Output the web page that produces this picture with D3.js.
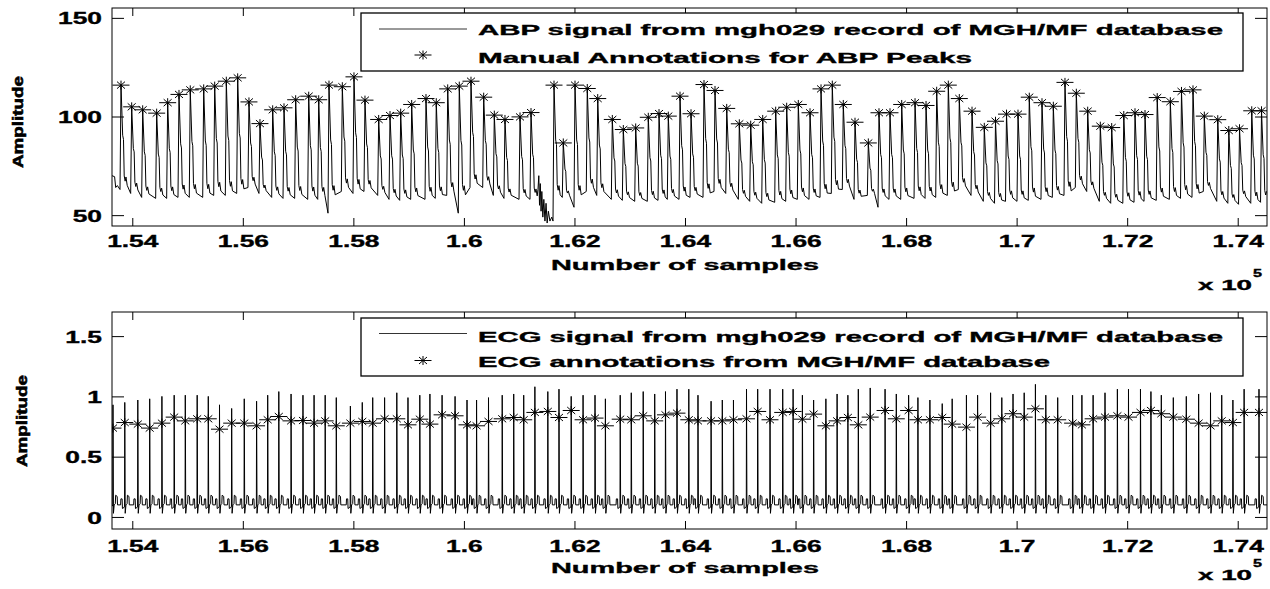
<!DOCTYPE html>
<html>
<head>
<meta charset="utf-8">
<script src="https://cdn.jsdelivr.net/npm/d3@7"></script>
<style>
  body { margin: 0; background: #fff; }
  text { font-family: "Liberation Sans", Arial, sans-serif; font-weight: bold; fill: #000; stroke: #000; stroke-width: 0.35px; }
</style>
</head>
<body>
<div id="chart"></div>
<script>
// ---------------- data ----------------
var xDomain = [153633, 174530];
var xTicks = [154000, 156000, 158000, 160000, 162000, 164000, 166000, 168000, 170000, 172000, 174000];
var xTickLabels = ["1.54", "1.56", "1.58", "1.6", "1.62", "1.64", "1.66", "1.68", "1.7", "1.72", "1.74"];

var abpTicks = [50, 100, 150];
var abpTickLabels = ["50", "100", "150"];
var ecgTicks = [0, 0.5, 1, 1.5];
var ecgTickLabels = ["0", "0.5", "1", "1.5"];

// ABP: annotated systolic peaks (sample index, mmHg) and foot value before each upstroke
var abpPeakSample = [153796, 153989, 154188, 154441, 154640, 154845, 155049, 155292, 155491, 155701,
  155907, 156111, 156310, 156540, 156745, 156956, 157192, 157373, 157559, 157800,
  158011, 158210, 158458, 158663, 158856, 159055, 159314, 159500, 159707, 159916,
  160128, 160358, 160550, 160743, 161015, 161214, 161630, 161798, 162010, 162232,
  162421, 162685, 162884, 163108, 163336, 163530, 163698, 163910, 164109, 164344,
  164543, 164755, 164983, 165189, 165406, 165641, 165840, 166050, 166262, 166461,
  166665, 166864, 167076, 167317, 167510, 167709, 167921, 168162, 168361, 168554,
  168764, 168963, 169193, 169415, 169618, 169817, 170025, 170229, 170459, 170664,
  170875, 171080, 171286, 171514, 171720, 171939, 172142, 172323, 172544, 172781,
  172983, 173191, 173396, 173639, 173839, 174033, 174254, 174431];
var abpPeak = [115.9, 104.9, 103.4, 101.7, 107, 111.2, 113.5, 114, 115.4, 117.9,
  119.6, 107.4, 96.4, 103.4, 104.4, 108.5, 110.3, 108.5, 115.9, 115.1,
  120.1, 108.3, 98.5, 100.5, 101.7, 106.1, 109.1, 107, 114, 115.4,
  117.9, 109.8, 100.7, 98.5, 99.8, 102, 115.9, 86.6, 115.9, 114.2,
  109.1, 98.5, 93.4, 94.2, 99.6, 101.5, 100.2, 110.3, 101.4, 116.2,
  113.2, 104.1, 96.3, 95.6, 98.5, 102.7, 104.7, 106.1, 101.9, 114,
  115.9, 106.1, 97.1, 86.6, 101.9, 101.9, 106.1, 107, 105.6, 112.8,
  115.9, 109.1, 102.7, 94.5, 97.6, 101.2, 101.2, 109.8, 107, 105.2,
  117.3, 111.8, 102.7, 95.1, 94.4, 100.5, 101.9, 101, 109.6, 107.5,
  112.7, 113.5, 100.2, 98.4, 92.9, 93.8, 102.9, 102.9];
var abpFoot = [63, 61, 59, 58.5, 58.5, 59, 59, 59, 60, 60,
  61, 64, 61, 59, 58.5, 58.5, 58, 58, 51, 62,
  61, 62, 60, 58, 57.5, 58, 58, 58.5, 60, 51,
  64, 64, 60, 58.5, 58, 58, 47, 59, 54, 62,
  60, 58, 57.5, 57, 57, 57.5, 58, 58, 59, 59,
  62, 61, 58, 57, 56, 56.5, 57, 58, 58, 59,
  61, 63, 58, 60, 54, 58, 58, 58.5, 58.5, 59,
  60, 63, 60, 57, 56, 57, 57, 57.5, 58, 59,
  60, 64, 62, 57, 56, 56, 56.5, 57, 57.5, 58,
  58.5, 59, 62, 57, 56, 55.5, 56, 56.5];
// noisy stretch before the beat at 1.616e5
var abpArtifactSample = [161340, 161355, 161368, 161382, 161396, 161410, 161428, 161446, 161466, 161486, 161506, 161528, 161556, 161590];
var abpArtifactValue = [63, 70, 55, 66, 52, 62, 49, 58, 47, 56, 46, 52, 47, 49];

// ECG: annotation positions, annotation amplitude (stars) and R-wave height
var ecgSample = [153651, 153864, 154100, 154315, 154536, 154758, 154959, 155174, 155375, 155578,
  155798, 156026, 156249, 156450, 156651, 156873, 157088, 157289, 157490, 157691,
  157946, 158161, 158350, 158565, 158786, 158988, 159202, 159385, 159605, 159840,
  160056, 160229, 160445, 160693, 160901, 161082, 161284, 161518, 161720, 161941,
  162156, 162372, 162560, 162828, 163028, 163244, 163452, 163647, 163855, 164069,
  164235, 164472, 164675, 164877, 165113, 165315, 165538, 165768, 165956, 166124,
  166327, 166549, 166752, 166947, 167136, 167351, 167620, 167823, 168046, 168214,
  168431, 168654, 168834, 169092, 169294, 169529, 169732, 169935, 170137, 170340,
  170528, 170743, 171013, 171181, 171384, 171599, 171823, 172024, 172241, 172430,
  172618, 172835, 173070, 173293, 173508, 173711, 173913, 174116, 174385];
var ecgAnnot = [0.737, 0.783, 0.77, 0.737, 0.778, 0.828, 0.797, 0.814, 0.814, 0.728,
  0.778, 0.778, 0.756, 0.806, 0.833, 0.797, 0.8, 0.778, 0.797, 0.756,
  0.778, 0.792, 0.778, 0.814, 0.814, 0.764, 0.811, 0.77, 0.847, 0.839,
  0.764, 0.756, 0.792, 0.814, 0.825, 0.806, 0.867, 0.875, 0.825, 0.883,
  0.806, 0.82, 0.756, 0.811, 0.806, 0.839, 0.797, 0.847, 0.861, 0.806,
  0.797, 0.797, 0.797, 0.806, 0.814, 0.875, 0.806, 0.867, 0.875, 0.811,
  0.853, 0.756, 0.797, 0.825, 0.764, 0.828, 0.883, 0.814, 0.883, 0.806,
  0.806, 0.825, 0.77, 0.745, 0.828, 0.778, 0.814, 0.856, 0.828, 0.897,
  0.806, 0.806, 0.778, 0.764, 0.814, 0.828, 0.839, 0.828, 0.867, 0.883,
  0.856, 0.828, 0.811, 0.778, 0.756, 0.797, 0.783, 0.867, 0.867];
var ecgR = [0.93, 0.95, 0.97, 0.98, 1.0, 1.01, 1.01, 1.01, 1.0, 0.93,
  0.9, 0.98, 0.96, 1.01, 1.04, 1.02, 1.01, 1.01, 1.01, 0.99,
  0.92, 0.95, 0.99, 0.99, 1.03, 0.99, 1.01, 1.02, 1.01, 1.0,
  0.97, 0.97, 0.99, 1.01, 1.02, 1.01, 1.08, 1.04, 1.06, 1.0,
  1.01, 1.01, 0.98, 1.01, 1.03, 1.04, 1.02, 1.04, 1.06, 1.06,
  1.01, 0.96, 0.97, 0.97, 1.06, 1.06, 1.06, 1.06, 1.06, 1.01,
  0.97, 0.98, 1.02, 1.01, 1.06, 1.07, 1.06, 1.02, 1.01, 0.99,
  0.97, 0.94, 0.98, 1.01, 1.01, 1.03, 0.99, 1.02, 1.03, 1.1,
  1.01, 0.99, 1.01, 1.01, 1.01, 1.03, 1.06, 1.06, 1.06, 1.04,
  1.01, 0.99, 1.0, 1.02, 1.03, 1.01, 0.97, 1.06, 1.06];

// beat shapes: [offset after peak in samples, fraction of (peak - foot)] for ABP,
// [offset, mV] for ECG (negative offsets count back from the next beat)
var abpShape = [[30, 0.52], [45, 0.48], [58, 0.13], [75, 0.08], [90, 0.12], [112, 0.04]];
var ecgShape = [[8, 0.03], [22, 0.1], [42, 0.11], [48, 0.18], [76, 0.17], [82, 0.1]];
var ecgShapeBefore = [[-75, 0.1], [-70, 0.15], [-48, 0.15], [-42, 0.07], [-10, 0.08]];

// ---------------- layout ----------------
var W = 1270, H = 589;
var left = 112, right = 1267;

var svg = d3.select("#chart")
  .append("svg")
  .attr("width", W)
  .attr("height", H);

var x = d3.scaleLinear().domain(xDomain).range([left, right]);

function fit(sel, w) {
  sel.attr("textLength", w).attr("lengthAdjust", "spacingAndGlyphs");
}
function stretch(sel, k) {
  sel.each(function() {
    var n = this.getComputedTextLength();
    d3.select(this).attr("textLength", n * k).attr("lengthAdjust", "spacingAndGlyphs");
  });
}

var starPath = "M-8.5,0H8.5M0,-4.5V4.5M-4,-3.5L4,3.5M-4,3.5L4,-3.5";

// build signal vertices
function abpPoints() {
  var pts = [[xDomain[0], 70], [153680, 69.5], [153700, 64], [153730, 65]];
  abpPeakSample.forEach(function(p, i) {
    if (i === 36) {
      abpArtifactSample.forEach(function(s, j) { pts.push([s, abpArtifactValue[j]]); });
    }
    pts.push([p - 18, abpFoot[i]]);
    pts.push([p, abpPeak[i]]);
    var f = abpFoot[i] < 56 ? 58 : abpFoot[i];
    abpShape.forEach(function(s) {
      if (p + s[0] <= xDomain[1]) pts.push([p + s[0], f + s[1] * (abpPeak[i] - f)]);
    });
  });
  return pts;
}

function ecgPoints() {
  var pts = [[xDomain[0], 0.1]];
  ecgSample.forEach(function(p, i) {
    pts.push([p - 4, 0.09]);
    pts.push([p, ecgR[i]]);
    ecgShape.forEach(function(s) {
      if (p + s[0] <= xDomain[1]) pts.push([p + s[0], s[1]]);
    });
    if (i + 1 < ecgSample.length) {
      var q = ecgSample[i + 1];
      ecgShapeBefore.forEach(function(s) { pts.push([q + s[0], s[1]]); });
    }
  });
  pts.push([xDomain[1], 0.1]);
  return pts;
}

var panels = [
  {
    top: 8, bottom: 226, yDomain: [44.5, 155], ticks: abpTicks, labels: abpTickLabels,
    points: abpPoints(), starX: abpPeakSample, starY: abpPeak,
    tickLabelY: 247, xlabelY: 269.5, x10Y: 290, ampY: 122, ampX: 23,
    legend: {y0: 13, y1: 71, lineY: 29, starY: 55, t1Y: 35, t2Y: 63,
      t1: "ABP signal from mgh029 record of MGH/MF database", w1: 745,
      t2: "Manual Annotations for ABP Peaks", w2: 494}
  },
  {
    top: 312, bottom: 529, yDomain: [-0.1, 1.7], ticks: ecgTicks, labels: ecgTickLabels,
    points: ecgPoints(), starX: ecgSample, starY: ecgAnnot,
    tickLabelY: 552, xlabelY: 573, x10Y: 580, ampY: 421, ampX: 27,
    legend: {y0: 318, y1: 376, lineY: 333.5, starY: 360.5, t1Y: 341.5, t2Y: 367,
      t1: "ECG signal from mgh029 record of MGH/MF database", w1: 745,
      t2: "ECG annotations from MGH/MF database", w2: 572}
  }
];

panels.forEach(function(pn, k) {
  var y = d3.scaleLinear().domain(pn.yDomain).range([pn.bottom, pn.top]);
  var g = svg.append("g");

  svg.append("clipPath").attr("id", "clip" + k)
    .append("rect")
    .attr("x", left).attr("y", pn.top)
    .attr("width", right - left).attr("height", pn.bottom - pn.top);

  // signal
  var line = d3.line()
    .x(function(d) { return x(d[0]); })
    .y(function(d) { return y(d[1]); });
  g.append("path")
    .datum(pn.points)
    .attr("clip-path", "url(#clip" + k + ")")
    .attr("d", line)
    .attr("fill", "none")
    .attr("stroke", "#000")
    .attr("stroke-width", 1);

  // annotation stars
  g.append("g")
    .attr("clip-path", "url(#clip" + k + ")")
    .selectAll("path")
    .data(pn.starX)
    .enter()
    .append("path")
    .attr("transform", function(d, i) {
      return "translate(" + x(d) + "," + y(pn.starY[i]) + ")";
    })
    .attr("d", starPath)
    .attr("fill", "none")
    .attr("stroke", "#000")
    .attr("stroke-width", 1);

  // axes (ticks pointing inward on all four sides)
  var xb = g.append("g")
    .attr("transform", "translate(0," + pn.bottom + ")")
    .call(d3.axisBottom(x).tickValues(xTicks).tickSize(-8)
      .tickFormat(function(d, i) { return xTickLabels[i]; }));
  g.append("g")
    .attr("transform", "translate(0," + pn.top + ")")
    .call(d3.axisTop(x).tickValues(xTicks).tickSize(-8).tickFormat(""));
  var yl = g.append("g")
    .attr("transform", "translate(" + left + ",0)")
    .call(d3.axisLeft(y).tickValues(pn.ticks).tickSize(-12)
      .tickFormat(function(d, i) { return pn.labels[i]; }));
  g.append("g")
    .attr("transform", "translate(" + right + ",0)")
    .call(d3.axisRight(y).tickValues(pn.ticks).tickSize(-12).tickFormat(""));

  g.selectAll(".domain").remove();
  g.selectAll(".tick line").attr("stroke", "#000").attr("stroke-width", 1);

  xb.selectAll("text")
    .attr("y", pn.tickLabelY - pn.bottom)
    .attr("dy", null)
    .attr("font-family", null)
    .attr("font-size", 17);
  yl.selectAll("text")
    .attr("x", -10)
    .attr("dy", "0.36em")
    .attr("font-family", null)
    .attr("font-size", 17);
  xb.selectAll("text").call(stretch, 1.55);
  yl.selectAll("text").call(stretch, 1.55);

  // frame
  g.append("rect")
    .attr("x", left).attr("y", pn.top)
    .attr("width", right - left).attr("height", pn.bottom - pn.top)
    .attr("fill", "none")
    .attr("stroke", "#000")
    .attr("stroke-width", 1);

  // axis titles
  g.append("text")
    .attr("x", 685).attr("y", pn.xlabelY)
    .attr("text-anchor", "middle")
    .attr("font-size", 15.5)
    .text("Number of samples")
    .call(fit, 268);
  g.append("text")
    .attr("x", 1198).attr("y", pn.x10Y)
    .attr("font-size", 14)
    .text("x 10")
    .call(fit, 54);
  g.append("text")
    .attr("x", 1253).attr("y", pn.x10Y - 13)
    .attr("font-size", 11)
    .text("5")
    .call(fit, 9);
  g.append("text")
    .attr("transform", "translate(" + pn.ampX + "," + pn.ampY + ") rotate(-90)")
    .attr("text-anchor", "middle")
    .attr("font-size", 15)
    .style("stroke-width", "0.6px")
    .text("Amplitude")
    .call(fit, 92);

  // legend
  var lg = pn.legend;
  var leg = g.append("g");
  leg.append("rect")
    .attr("x", 361).attr("y", lg.y0)
    .attr("width", 1243 - 361).attr("height", lg.y1 - lg.y0)
    .attr("fill", "#fff")
    .attr("stroke", "#000")
    .attr("stroke-width", 1.3);
  leg.append("line")
    .attr("x1", 379).attr("x2", 467)
    .attr("y1", lg.lineY).attr("y2", lg.lineY)
    .attr("stroke", "#000")
    .attr("stroke-width", 0.8);
  leg.append("path")
    .attr("transform", "translate(423," + lg.starY + ")")
    .attr("d", starPath)
    .attr("fill", "none")
    .attr("stroke", "#000")
    .attr("stroke-width", 1);
  leg.append("text")
    .attr("x", 478).attr("y", lg.t1Y)
    .attr("font-size", 15)
    .text(lg.t1)
    .call(fit, lg.w1);
  leg.append("text")
    .attr("x", 478).attr("y", lg.t2Y)
    .attr("font-size", 15)
    .text(lg.t2)
    .call(fit, lg.w2);
});
</script>
</body>
</html>
